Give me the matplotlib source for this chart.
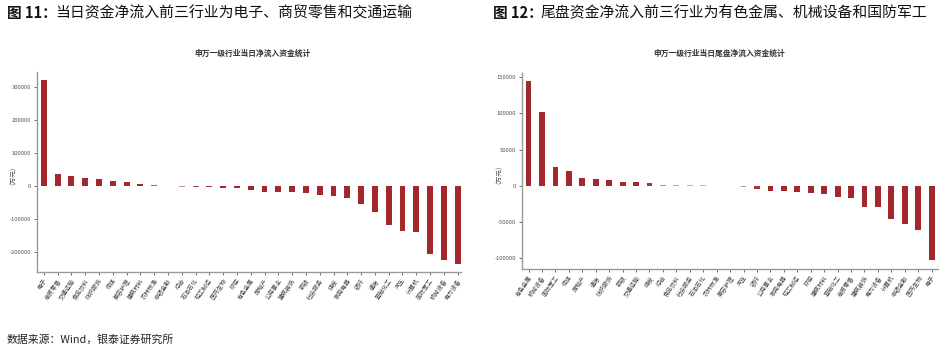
import matplotlib
matplotlib.use('Agg')
import matplotlib.pyplot as plt
import numpy as np

plt.rcParams['font.family'] = ['Noto Sans CJK SC', 'DejaVu Sans']
plt.rcParams['axes.unicode_minus'] = False

# 当日净流入（万元）
day_names = ['电子', '商贸零售', '交通运输', '食品饮料', '纺织服饰', '传媒', '美容护理',
             '建筑材料', '农林牧渔', '非银金融', '综合', '石油石化', '轻工制造', '医药生物',
             '环保', '有色金属', '房地产', '公用事业', '建筑装饰', '钢铁', '社会服务', '煤炭',
             '家用电器', '银行', '通信', '基础化工', '汽车', '计算机', '国防军工', '机械设备',
             '电力设备']
day_values = [322000, 35500, 29500, 23500, 21000, 15500, 12500,
              5000, 2500, 1500, -1500, -3000, -3500, -4500,
              -7000, -12500, -19000, -19000, -19500, -22000, -26000, -31000,
              -36500, -53000, -78000, -118000, -136000, -139000, -207000, -223000,
              -235000]
day_ticks = [300000, 200000, 100000, 0, -100000, -200000]

# 尾盘净流入（万元）
tail_names = ['有色金属', '机械设备', '国防军工', '传媒', '房地产', '通信', '纺织服饰', '钢铁',
              '交通运输', '煤炭', '综合', '食品饮料', '社会服务', '石油石化', '农林牧渔',
              '美容护理', '汽车', '银行', '公用事业', '家用电器', '轻工制造', '环保', '建筑材料',
              '基础化工', '商贸零售', '建筑装饰', '电力设备', '计算机', '非银金融', '医药生物',
              '电子']
tail_values = [144000, 102300, 26600, 21100, 11000, 9200, 8300, 5500,
               4600, 3700, 1500, 1000, 800, 700, 0,
               -700, -1500, -3700, -6900, -7300, -8700, -10000, -11500,
               -15100, -16500, -29000, -29800, -45900, -53200, -61000,
               -102700]
tail_ticks = [150000, 100000, 50000, 0, -50000, -100000]

dark = np.array([0.63, 0.16, 0.18])
light = np.array([0.92, 0.76, 0.76])


def bar_colors(values):
    cols = []
    for v in values:
        t = min(1.0, abs(v) / 4000.0)
        cols.append(tuple(light + (dark - light) * t))
    return cols


def draw_panel(ax, names, values, ticks, ylim, xlim, title, title_x, ylab_x):
    x = np.arange(len(names))
    ax.bar(x, values, width=0.43, color=bar_colors(values), zorder=2)
    ax.set_xlim(*xlim)
    ax.set_ylim(*ylim)
    ax.set_yticks(ticks)
    ax.set_yticklabels([str(t) for t in ticks])
    ax.set_xticks(x)
    ax.set_xticklabels(names, rotation=55, ha='right', rotation_mode='anchor')
    for s in ['top', 'right']:
        ax.spines[s].set_visible(False)
    for s in ['left', 'bottom']:
        ax.spines[s].set_color('#9a9a9a')
        ax.spines[s].set_linewidth(1.0)
    ax.tick_params(axis='both', colors='#555555', length=2.5, width=0.6, pad=1.5)
    ax.tick_params(axis='y', labelsize=4.2)
    ax.tick_params(axis='x', labelsize=4.3, labelcolor='#444444')
    ax.set_ylabel('（万元）', fontsize=4.8, color='#555555')
    ax.yaxis.set_label_coords(ylab_x, 0.5)
    fig.text(title_x, 1 - 53 / 350, title, fontsize=5.6, fontweight='bold',
             color='#333333', ha='center', va='center')


fig = plt.figure(figsize=(9.47, 3.5), dpi=100)

ax1 = fig.add_axes([37 / 947, 1 - 272 / 350, 424 / 947, 200 / 350])
draw_panel(ax1, day_names, day_values, day_ticks, (-260000, 345000), (-0.49, 30.24),
           '申万一级行业当日净流入资金统计', 252 / 947, -0.055)

ax2 = fig.add_axes([521.7 / 947, 1 - 269 / 350, 416.3 / 947, 196.3 / 350])
draw_panel(ax2, tail_names, tail_values, tail_ticks, (-114700, 156000), (-0.51, 30.47),
           '申万一级行业当日尾盘净流入资金统计', 719 / 947, -0.052)

# 图标题
fig.text(7 / 947, 1 - 13 / 350, '图 11：', fontsize=10.5, fontweight='bold',
         color='#111111', va='center', ha='left')
fig.text(55 / 947, 1 - 13 / 350, '当日资金净流入前三行业为电子、商贸零售和交通运输',
         fontsize=10.7, fontweight='light', color='#111111', va='center', ha='left')
fig.text(492.7 / 947, 1 - 13 / 350, '图 12：', fontsize=10.5, fontweight='bold',
         color='#111111', va='center', ha='left')
fig.text(541 / 947, 1 - 13 / 350, '尾盘资金净流入前三行业为有色金属、机械设备和国防军工',
         fontsize=10.7, fontweight='light', color='#111111', va='center', ha='left')

fig.text(7 / 947, 1 - 340 / 350, '数据来源：Wind，银泰证券研究所', fontsize=7.8,
         fontweight='light', color='#222222', va='center', ha='left')

fig.savefig('out.png', dpi=100)
